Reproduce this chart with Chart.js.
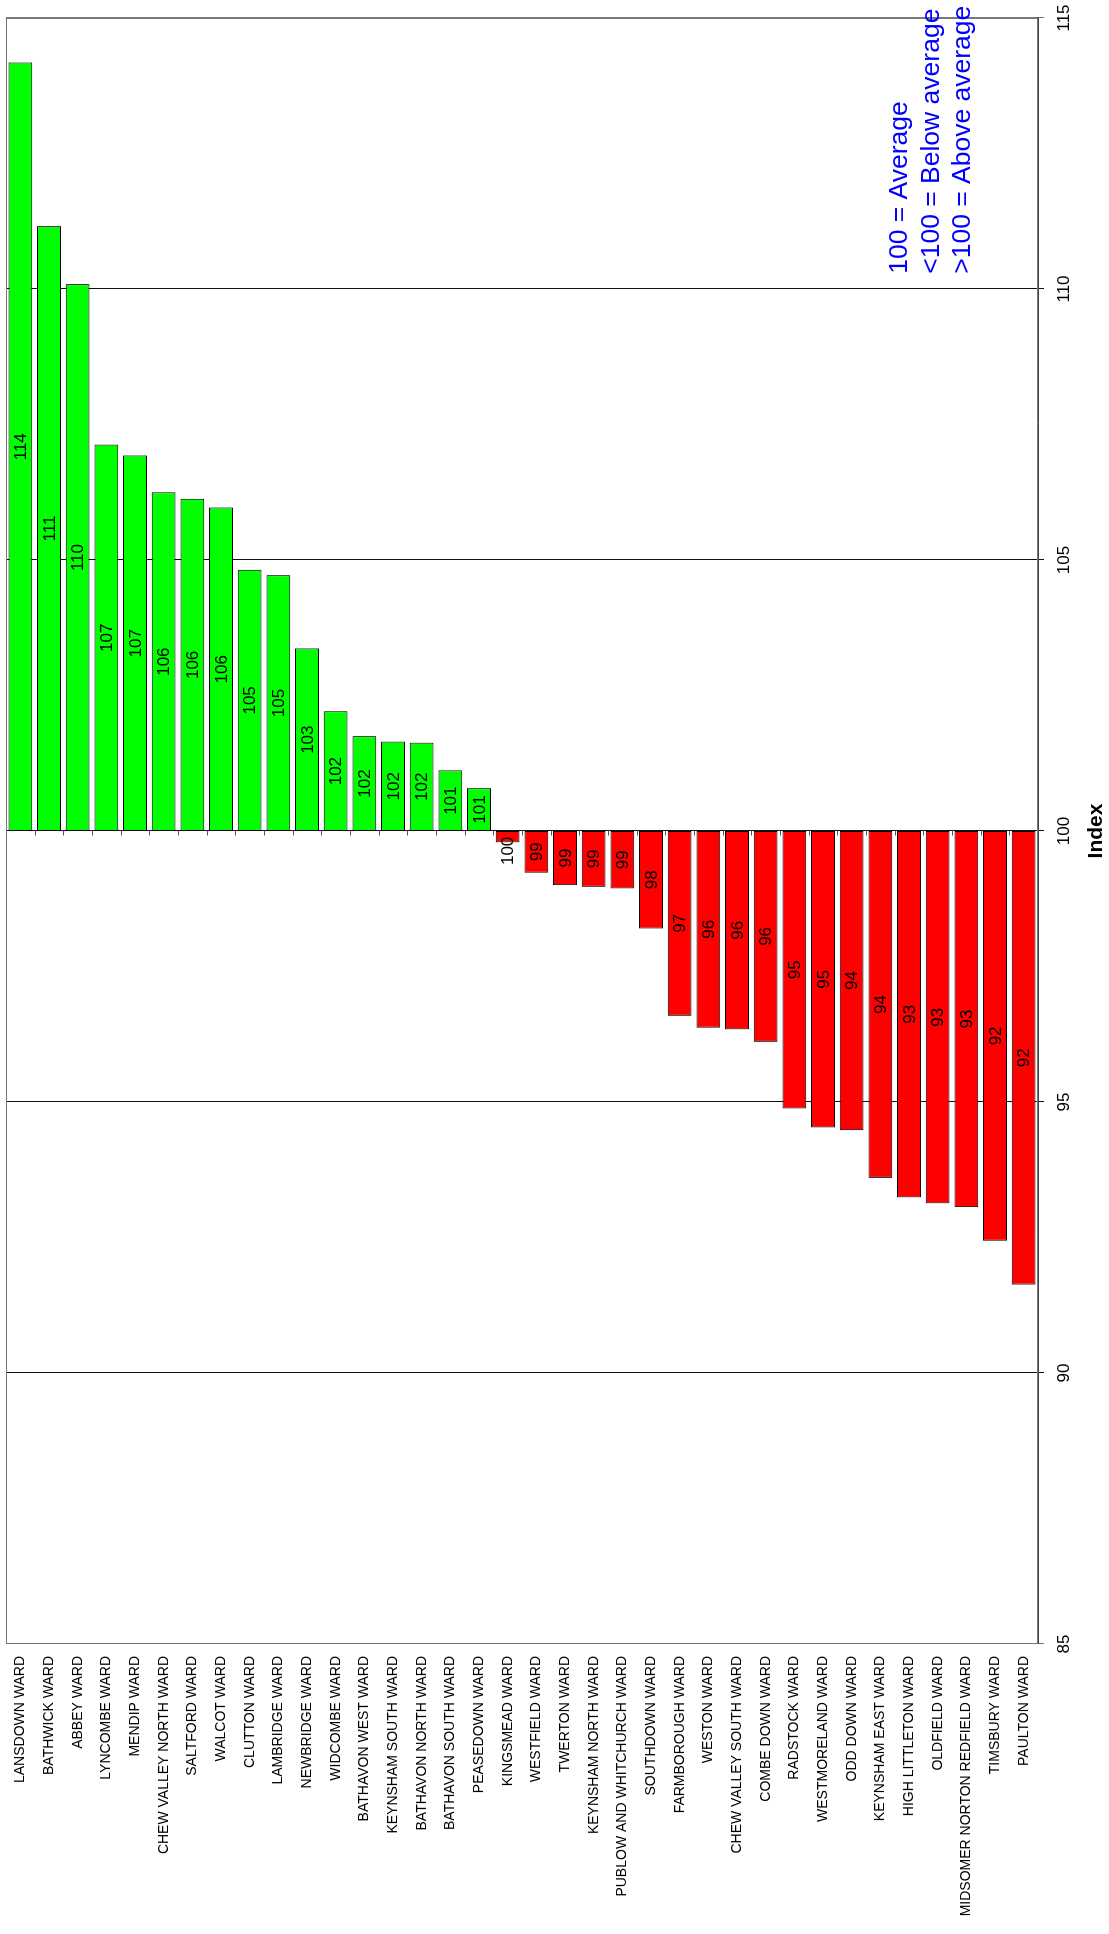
<!DOCTYPE html>
<html>
<head>
<meta charset="utf-8">
<title>Ward index</title>
<script src="https://cdn.jsdelivr.net/npm/chart.js@4/dist/chart.umd.min.js"></script>
<style>
  html, body { margin: 0; padding: 0; background: #fff; overflow: hidden; }
  /* the chart is laid out as a horizontal bar chart, then turned on its side */
  #wrap {
    position: absolute;
    left: 0;
    top: 0;
    width: 1934px;
    height: 1109px;
    transform-origin: 0 0;
    transform: translate(0, 1934px) rotate(-90deg);
  }
</style>
</head>
<body>
<div id="wrap"><canvas id="wards" width="1934" height="1109"></canvas></div>
<script>
"use strict";

const wards = [
  "LANSDOWN WARD", "BATHWICK WARD", "ABBEY WARD", "LYNCOMBE WARD",
  "MENDIP WARD", "CHEW VALLEY NORTH WARD", "SALTFORD WARD", "WALCOT WARD",
  "CLUTTON WARD", "LAMBRIDGE WARD", "NEWBRIDGE WARD", "WIDCOMBE WARD",
  "BATHAVON WEST WARD", "KEYNSHAM SOUTH WARD", "BATHAVON NORTH WARD",
  "BATHAVON SOUTH WARD", "PEASEDOWN WARD", "KINGSMEAD WARD", "WESTFIELD WARD",
  "TWERTON WARD", "KEYNSHAM NORTH WARD", "PUBLOW AND WHITCHURCH WARD",
  "SOUTHDOWN WARD", "FARMBOROUGH WARD", "WESTON WARD", "CHEW VALLEY SOUTH WARD",
  "COMBE DOWN WARD", "RADSTOCK WARD", "WESTMORELAND WARD", "ODD DOWN WARD",
  "KEYNSHAM EAST WARD", "HIGH LITTLETON WARD", "OLDFIELD WARD",
  "MIDSOMER NORTON REDFIELD WARD", "TIMSBURY WARD", "PAULTON WARD"
];

const index = [
  114.18, 111.16, 110.09, 107.13, 106.93, 106.25, 106.13, 105.97, 104.82,
  104.72, 103.37, 102.21, 101.75, 101.65, 101.63, 101.12, 100.79, 99.79,
  99.23, 99.0, 98.97, 98.94, 98.2, 96.59, 96.37, 96.34, 96.11, 94.88,
  94.53, 94.48, 93.6, 93.24, 93.13, 93.06, 92.44, 91.63
];

const valueTicks = [85, 90, 95, 100, 105, 110, 115];
const average = 100;
const notes = ["100 = Average", "<100 = Below average", ">100 = Above average"];

const FONT = "'Liberation Sans', Arial, Helvetica, sans-serif";

const ctx = document.getElementById("wards").getContext("2d");

// grey box round the plot area
const frame = {
  id: "frame",
  beforeDatasetsDraw(chart) {
    const { ctx, chartArea: a } = chart;
    ctx.save();
    ctx.strokeStyle = "#777";
    ctx.lineWidth = 1;
    ctx.strokeRect(a.left + 0.5, a.top + 0.5, a.width - 1, a.height - 1);
    ctx.restore();
  }
};

// short marks on the average line between neighbouring bars
const baseTicks = {
  id: "baseTicks",
  afterDatasetsDraw(chart) {
    const { ctx } = chart;
    const xs = chart.scales.x;
    const ys = chart.scales.y;
    const x0 = Math.round(xs.getPixelForValue(average)) + 0.5;
    ctx.save();
    ctx.strokeStyle = "#555";
    ctx.lineWidth = 1;
    ctx.beginPath();
    for (let i = 1; i < wards.length; i++) {
      const y = Math.round((ys.getPixelForValue(i - 1) + ys.getPixelForValue(i)) / 2) + 0.5;
      ctx.moveTo(x0, y);
      ctx.lineTo(x0 - 5, y);
    }
    ctx.stroke();
    ctx.restore();
  }
};

// rounded index written in the middle of each bar
const barLabels = {
  id: "barLabels",
  afterDatasetsDraw(chart) {
    const { ctx } = chart;
    const meta = chart.getDatasetMeta(0);
    ctx.save();
    ctx.font = "17px " + FONT;
    ctx.fillStyle = "#000";
    ctx.textBaseline = "middle";
    meta.data.forEach((bar, i) => {
      const text = String(Math.round(index[i]));
      const mid = (bar.x + bar.base) / 2;
      const fits = Math.abs(bar.x - bar.base) > ctx.measureText(text).width;
      ctx.textAlign = fits ? "center" : "right";
      ctx.fillText(text, mid, bar.y + 1);
    });
    ctx.restore();
  }
};

// blue key text in the lower right corner
const key = {
  id: "key",
  afterDraw(chart, args, opts) {
    const { ctx } = chart;
    const x = chart.scales.x.getPixelForValue(opts.at);
    ctx.save();
    ctx.font = "26.5px " + FONT;
    ctx.fillStyle = "#0000ff";
    ctx.textAlign = "left";
    ctx.textBaseline = "alphabetic";
    notes.forEach((line, i) => {
      ctx.fillText(line, x, opts.top + i * opts.gap);
    });
    ctx.restore();
  }
};

const noPadding = s => {
  s.paddingTop = 0;
  s.paddingBottom = 0;
  s.paddingLeft = 0;
  s.paddingRight = 0;
};

new Chart(ctx, {
  type: "bar",
  data: {
    labels: wards,
    datasets: [
      {
        data: index.map(v => [average, v]),
        backgroundColor: index.map(v => (v >= average ? "#00ff00" : "#ff0000")),
        borderColor: "#000",
        borderWidth: 1,
        borderSkipped: false,
        barPercentage: 0.83,
        categoryPercentage: 1
      }
    ]
  },
  options: {
    indexAxis: "y",
    responsive: false,
    animation: false,
    layout: { padding: { left: 0, right: 18, top: 6, bottom: 0 } },
    plugins: {
      legend: { display: false },
      tooltip: { enabled: false },
      key: { at: 110.28, top: 907, gap: 31.5 }
    },
    scales: {
      x: {
        type: "linear",
        min: 85,
        max: 115,
        afterBuildTicks: s => {
          s.ticks = valueTicks.map(v => ({ value: v }));
        },
        afterFit: s => {
          s.height = 71;
          noPadding(s);
        },
        ticks: {
          color: "#000",
          font: { family: FONT, size: 17 },
          padding: 10,
          maxRotation: 0
        },
        grid: {
          color: c => (c.tick && (c.tick.value === 85 || c.tick.value === 115) ? "#777" : "#111"),
          lineWidth: 1,
          tickLength: 6
        },
        border: { display: true, color: "#444" },
        title: {
          display: true,
          text: "Index",
          color: "#000",
          font: { family: FONT, size: 21, weight: "bold" },
          padding: 0
        }
      },
      y: {
        afterFit: s => {
          s.width = 290;
          noPadding(s);
        },
        ticks: {
          autoSkip: false,
          color: "#000",
          font: { family: FONT, size: 14 },
          padding: 12
        },
        grid: { display: false, drawTicks: false },
        border: { display: false }
      }
    }
  },
  plugins: [frame, baseTicks, barLabels, key]
});
</script>
</body>
</html>
